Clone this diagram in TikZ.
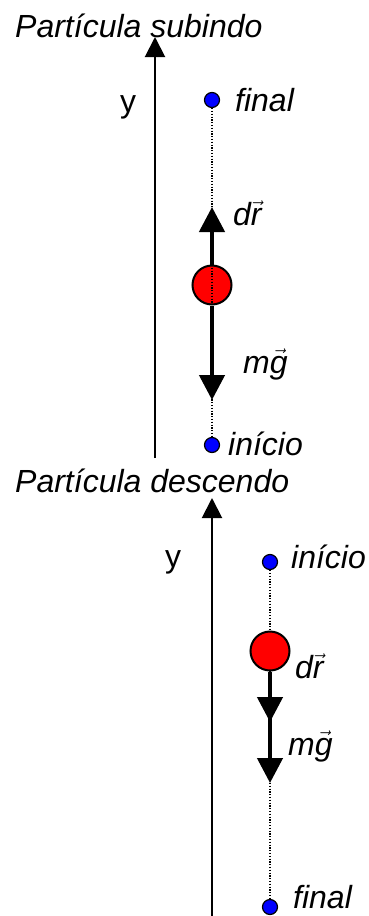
\documentclass[tikz,border=0pt]{standalone}
\usepackage{fontspec}
\setmainfont{Liberation Sans}
\usepackage{tikz}
\usetikzlibrary{arrows.meta, positioning}
\tikzset{
  dotnode/.style={circle, draw=black, fill=blue, line width=1.2pt,
                  minimum size=15pt, inner sep=0pt},
  ball/.style={circle, draw=black, fill=red, line width=2pt,
               minimum size=39pt, inner sep=0pt},
  lbl/.style={font=\fontsize{32}{38}\selectfont\itshape, inner sep=0pt,
              anchor=base west},
  axislbl/.style={font=\fontsize{32}{38}\selectfont, inner sep=0pt,
                  anchor=base},
  axis/.style={-{Triangle[width=20pt,length=20pt]}, line width=2pt},
  force/.style={-{Triangle[width=25pt,length=25pt]}, line width=4.5pt},
  track/.style={dash pattern=on 1.2pt off 1.6pt, line width=1.3pt},
}
\newcommand{\vecof}[1]{\ensuremath{\vec{\mbox{\itshape #1}}}}

\begin{document}
\begin{tikzpicture}[x=1pt, y=-1pt]
  \useasboundingbox (0,0) rectangle (368,916);

  % particle going up
  \node[lbl] (title1) at (15,37) {Partícula subindo};
  \coordinate (ybot1) at (155,458);
  \coordinate (ytop1) at (155,37);
  \draw[axis] (ybot1) -- (ytop1);
  \node[axislbl] (y1) at (128,112) {y};

  \node[dotnode] (end1) at (212,100) {};
  \node[lbl] (end1lbl) at (235,111) {final};
  \node[dotnode] (start1) at (212,445) {};
  \node[lbl] (start1lbl) at (228,455) {início};
  \node[ball] (ball1) at (212,285) {};
  \draw[track] (end1) -- (start1);

  \coordinate (dr1) at (212,207);
  \coordinate (mg1) at (212,400);
  \draw[force] (ball1.north) -- (dr1);
  \draw[force] (ball1.south) -- (mg1);
  \node[lbl] (dr1lbl) at (233,225) {d\vecof{r}};
  \node[lbl] (mg1lbl) at (243,373) {m\vecof{g}};

  % particle going down
  \node[lbl] (title2) at (15,492) {Partícula descendo};
  \coordinate (ybot2) at (212,916);
  \coordinate (ytop2) at (212,498);
  \draw[axis] (ybot2) -- (ytop2);
  \node[axislbl] (y2) at (173,567) {y};

  \node[dotnode] (start2) at (270,562) {};
  \node[lbl] (start2lbl) at (291,568) {início};
  \node[dotnode] (end2) at (270,907) {};
  \node[lbl] (end2lbl) at (293,908) {final};
  \draw[track] (start2) -- (end2);
  \node[ball] (ball2) at (270,651) {};

  \coordinate (dr2) at (270,722);
  \coordinate (mg2) at (270,783);
  \draw[force] (ball2.south) -- (dr2);
  \draw[force] (ball2.south) -- (mg2);
  \node[lbl] (dr2lbl) at (295,678) {d\vecof{r}};
  \node[lbl] (mg2lbl) at (288,755) {m\vecof{g}};
\end{tikzpicture}
\end{document}
